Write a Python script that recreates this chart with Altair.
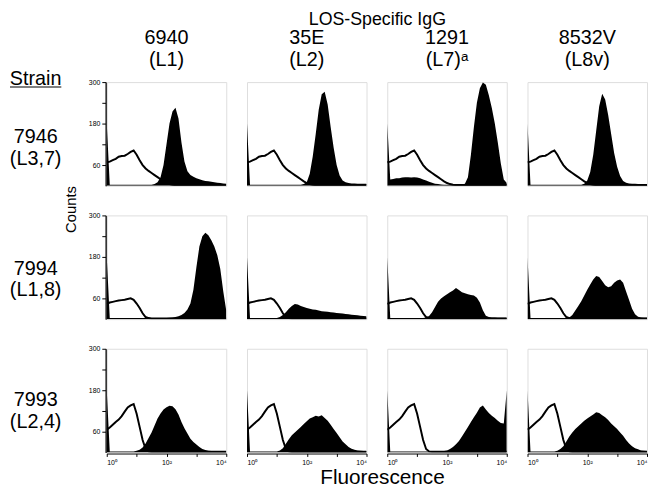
import altair as alt
import pandas as pd

# ---------------- data ----------------
# bin centres on the fluorescence axis, in log10 units (10^0 .. 10^4)
X_LOG = [i / 10 for i in range(41)]

STRAIN_IDS = ["7946", "7994", "7993"]
STRAIN_LOS = ["(L3,7)", "(L1,8)", "(L2,4)"]
MAB_IDS = ["6940", "35E", "1291", "8532V"]
MAB_LOS = ["(L1)", "(L2)", "(L7)ᵃ", "(L8v)"]

Y_TICKS = [60, 120, 180, 240, 300]
Y_TICK_LABELS = ["60", "", "180", "", "300"]
X_TICKS = [0, 1, 2, 3, 4]
X_TICK_LABELS = ["10⁰", "", "10²", "", "10⁴"]

# control (open) histograms, one per strain
CONTROL_7946 = [68, 70, 74, 78, 84, 86, 87, 92, 98, 102, 90, 74, 60, 50, 43, 37, 31, 25, 19, 13,
                8, 5, 3, 2, 2, 2, 2, 2, 2, 2, 2, 2, 2, 2, 2, 2, 2, 2, 2, 2, 2]
CONTROL_7994 = [44, 48, 50, 52, 54, 55, 56, 58, 60, 56, 45, 32, 17, 6, 3, 2, 2, 2, 2, 2,
                2, 2, 2, 2, 2, 2, 2, 2, 2, 2, 2, 2, 2, 2, 2, 2, 2, 2, 2, 2, 2]
CONTROL_7993 = [66, 72, 80, 88, 95, 105, 118, 130, 136, 140, 112, 74, 36, 10, 3, 2, 2, 2, 2, 2,
                2, 2, 2, 2, 2, 2, 2, 2, 2, 2, 2, 2, 2, 2, 2, 2, 2, 2, 2, 2, 2]

# LOS-specific IgG (filled) histograms
STAIN_7946_6940 = [180, 3, 3, 3, 3, 3, 3, 3, 3, 3, 3, 3, 3, 3, 3, 3, 5, 10, 25, 60,
                   120, 180, 215, 226, 195, 125, 70, 42, 31, 26, 22, 19, 16, 14, 13, 12, 10, 9, 8, 7, 6]
STAIN_7946_35E = [180, 3, 3, 3, 3, 3, 3, 3, 3, 3, 3, 3, 3, 3, 3, 3, 3, 3, 3, 5,
                  10, 35, 85, 150, 220, 265, 272, 235, 170, 110, 60, 30, 15, 10, 8, 7, 7, 6, 6, 6, 6]
STAIN_7946_1291 = [180, 18, 20, 22, 22, 24, 25, 25, 24, 25, 24, 22, 18, 15, 12, 9, 6, 5, 4, 3,
                   3, 3, 3, 3, 3, 4, 6, 25, 90, 170, 240, 282, 299, 292, 262, 225, 180, 125, 65, 18, 8]
STAIN_7946_8532V = [180, 3, 3, 3, 3, 3, 3, 3, 3, 3, 3, 3, 3, 3, 3, 3, 3, 3, 3, 6,
                    15, 40, 90, 160, 230, 266, 250, 205, 150, 95, 55, 28, 14, 9, 7, 6, 6, 5, 5, 5, 5]
STAIN_7994_6940 = [180, 3, 3, 3, 3, 3, 3, 3, 3, 3, 3, 3, 3, 3, 3, 3, 3, 3, 3, 3,
                   3, 4, 5, 6, 8, 12, 18, 28, 45, 85, 150, 210, 240, 250, 243, 228, 210, 185, 145, 80, 24]
STAIN_7994_35E = [180, 3, 3, 3, 3, 3, 3, 3, 3, 3, 3, 6, 12, 20, 30, 38, 44, 42, 38, 35,
                  32, 30, 28, 27, 25, 23, 22, 21, 20, 19, 18, 17, 16, 15, 14, 13, 12, 11, 10, 9, 8]
STAIN_7994_1291 = [180, 3, 3, 3, 3, 3, 3, 3, 3, 3, 3, 3, 3, 5, 9, 20, 35, 50, 60, 66,
                   72, 78, 83, 90, 84, 78, 75, 72, 70, 68, 62, 48, 26, 10, 6, 5, 5, 4, 4, 4, 4]
STAIN_7994_8532V = [180, 3, 3, 3, 3, 3, 3, 3, 3, 3, 3, 3, 3, 3, 5, 12, 25, 38, 52, 68,
                    85, 100, 115, 125, 122, 110, 98, 92, 95, 105, 112, 115, 105, 80, 55, 30, 14, 7, 5, 4, 4]
STAIN_7993_6940 = [180, 3, 3, 3, 3, 3, 3, 3, 3, 3, 5, 8, 14, 26, 42, 58, 78, 98, 113, 124,
                   131, 135, 134, 125, 110, 88, 70, 55, 40, 30, 23, 16, 10, 7, 5, 4, 4, 3, 3, 3, 3]
STAIN_7993_35E = [180, 3, 3, 3, 3, 3, 3, 3, 3, 3, 3, 6, 12, 25, 38, 50, 58, 66, 74, 82,
                  90, 98, 102, 106, 104, 108, 100, 92, 80, 68, 56, 44, 32, 24, 16, 11, 8, 6, 5, 4, 4]
STAIN_7993_1291 = [180, 3, 3, 3, 3, 3, 3, 3, 3, 3, 3, 3, 3, 3, 3, 3, 3, 3, 3, 4,
                   6, 10, 16, 24, 33, 46, 60, 74, 88, 102, 115, 130, 136, 124, 114, 106, 100, 92, 85, 84, 180]
STAIN_7993_8532V = [180, 3, 3, 3, 3, 3, 3, 3, 3, 3, 5, 10, 18, 32, 46, 58, 68, 76, 84, 92,
                    98, 104, 110, 116, 114, 108, 102, 94, 84, 76, 68, 58, 48, 36, 26, 18, 12, 9, 6, 5, 4]

CONTROL = {"7946": CONTROL_7946, "7994": CONTROL_7994, "7993": CONTROL_7993}
STAINED = {
    ("7946", "6940"): STAIN_7946_6940, ("7946", "35E"): STAIN_7946_35E,
    ("7946", "1291"): STAIN_7946_1291, ("7946", "8532V"): STAIN_7946_8532V,
    ("7994", "6940"): STAIN_7994_6940, ("7994", "35E"): STAIN_7994_35E,
    ("7994", "1291"): STAIN_7994_1291, ("7994", "8532V"): STAIN_7994_8532V,
    ("7993", "6940"): STAIN_7993_6940, ("7993", "35E"): STAIN_7993_35E,
    ("7993", "1291"): STAIN_7993_1291, ("7993", "8532V"): STAIN_7993_8532V,
}

# ---------------- table ----------------
COL_KEYS = [f"{m}|{l}" for m, l in zip(MAB_IDS, MAB_LOS)]
records = []
for s in STRAIN_IDS:
    for m, key in zip(MAB_IDS, COL_KEYS):
        for xv, c in zip(X_LOG, CONTROL[s]):
            records.append({"strain": s, "mab": key, "x": xv, "count": c, "kind": "control"})
        for xv, c in zip(X_LOG, STAINED[(s, m)]):
            records.append({"strain": s, "mab": key, "x": xv, "count": c, "kind": "stained"})
df = pd.DataFrame(records)

FONT = "Liberation Sans"
PANEL_W, PANEL_H = 121, 105
ROW_GAP, COL_GAP = 28, 19

y_label_expr = "[" + ",".join(f"'{t}'" for t in Y_TICK_LABELS) + "][indexof(" + \
    "[" + ",".join(str(v) for v in Y_TICKS) + "], datum.value)]"
x_label_expr = "[" + ",".join(f"'{t}'" for t in X_TICK_LABELS) + "][indexof(" + \
    "[" + ",".join(str(v) for v in X_TICKS) + "], datum.value)]"

x_enc = alt.X("x:Q", scale=alt.Scale(domain=[0, 4], nice=False, zero=False),
              axis=alt.Axis(values=X_TICKS, labelExpr=x_label_expr, title=None, grid=False,
                            domain=True, domainColor="black", domainWidth=1.2,
                            tickColor="black", tickSize=3, tickWidth=1,
                            labelFont=FONT, labelFontSize=7, labelColor="black",
                            labelPadding=2, labelOverlap=False))
y_enc = alt.Y("count:Q", scale=alt.Scale(domain=[0, 300], nice=False),
              axis=alt.Axis(values=Y_TICKS, labelExpr=y_label_expr, title=None, grid=False,
                            domain=True, domainColor="black", domainWidth=1.6,
                            tickColor="black", tickSize=4, tickWidth=1,
                            labelFont=FONT, labelFontSize=7, labelColor="black",
                            labelPadding=2, labelOverlap=False))

area = alt.Chart().transform_filter("datum.kind == 'stained'").mark_area(
    interpolate="linear", color="black", clip=True
).encode(x=x_enc, y=y_enc)

line = alt.Chart().transform_filter("datum.kind == 'control'").mark_line(
    interpolate="linear", color="black", strokeWidth=2, clip=True
).encode(x=x_enc, y=y_enc)

grid = alt.layer(area, line, data=df).properties(width=PANEL_W, height=PANEL_H).facet(
    row=alt.Row("strain:N", sort=STRAIN_IDS, header=alt.Header(labels=False, title=None)),
    column=alt.Column("mab:N", sort=COL_KEYS, header=alt.Header(
        title="LOS-Specific IgG", titleFont=FONT, titleFontSize=18, titleFontWeight="normal",
        titleColor="black", titlePadding=-11,
        labelExpr="split(datum.value, '|')", labelFont=FONT, labelFontSize=20,
        labelColor="black", labelLineHeight=23, labelPadding=11)),
    spacing={"row": ROW_GAP, "column": COL_GAP},
)

# ---------------- left-hand labels (y measured from the top of the first panel row) ----------------
one = alt.Data(values=[{"a": 1}])
left_layers = [
    alt.Chart(one).mark_text(text="Strain", font=FONT, fontSize=20, align="center",
                             baseline="alphabetic", color="black")
    .encode(x=alt.value(26), y=alt.value(3)),
    alt.Chart(one).mark_rule(color="black", strokeWidth=1.2)
    .encode(x=alt.value(0), x2=alt.value(52), y=alt.value(5)),
    alt.Chart(one).mark_text(text="Counts", font=FONT, fontSize=15, angle=270, align="center",
                             baseline="middle", color="black")
    .encode(x=alt.value(62), y=alt.value(129)),
]
ROW_BASELINES = [62, 62 + PANEL_H + ROW_GAP, 62 + 2 * (PANEL_H + ROW_GAP)]
for sid, los, yb in zip(STRAIN_IDS, STRAIN_LOS, ROW_BASELINES):
    left_layers.append(
        alt.Chart(one).mark_text(text=[sid, los], font=FONT, fontSize=20, lineHeight=22,
                                 align="center", baseline="alphabetic", color="black")
        .encode(x=alt.value(26), y=alt.value(yb))
    )
left = alt.layer(*left_layers).properties(width=78, height=3 * PANEL_H + 2 * ROW_GAP,
                                          view=alt.ViewConfig(stroke="transparent"))

chart = alt.hconcat(left, grid, spacing=0).properties(
    padding=0,
    title=alt.Title("Fluorescence", orient="bottom", anchor="middle", dx=55,
                    font=FONT, fontSize=21, fontWeight="normal", color="black", offset=2),
).configure_view(stroke="#808080", strokeWidth=1.5).configure(background="white")

chart.save("out.html", embed_options={"renderer": "svg", "actions": False})
